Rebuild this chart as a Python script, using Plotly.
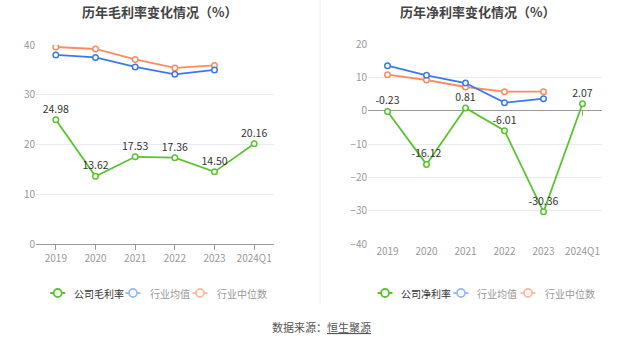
import plotly.graph_objects as go

# Categories (years) shared by both panels
years = ["2019", "2020", "2021", "2022", "2023", "2024Q1"]

# Gross margin (%)
gross_company = [24.98, 13.62, 17.53, 17.36, 14.50, 20.16]
gross_ind_avg = [38.0, 37.5, 35.6, 34.1, 35.0]
gross_ind_median = [39.6, 39.2, 37.1, 35.4, 35.9]

# Net margin (%)
net_company = [-0.23, -16.12, 0.81, -6.01, -30.36, 2.07]
net_ind_avg = [13.5, 10.6, 8.3, 2.4, 3.6]
net_ind_median = [10.8, 9.2, 7.1, 5.7, 5.7]

GREEN = "#5ac42c"
BLUE = "#3b78ef"
ORANGE = "#fb8c60"
BLUE_L = "#9dbaf6"
ORANGE_L = "#fcbca3"
FONT = "Noto Sans CJK SC"

W, H = 637, 344


def px_x(p):
    return p / W


def px_y(p):
    return 1 - p / H


fig = go.Figure()


def add_panel(xa, ya, company, avg, median):
    fmt = ["%.2f" % v for v in company]
    for vals, col in [(median, ORANGE), (avg, BLUE)]:
        fig.add_trace(go.Scatter(
            x=years[:len(vals)], y=vals, xaxis=xa, yaxis=ya, mode="lines+markers",
            line=dict(color=col, width=1.8),
            marker=dict(symbol="circle", size=5.5, color="white", line=dict(color=col, width=1.5)),
            showlegend=False, hoverinfo="skip"))
    fig.add_trace(go.Scatter(
        x=years, y=company, xaxis=xa, yaxis=ya, mode="lines+markers+text",
        text=fmt, textposition="top center",
        textfont=dict(family=FONT, size=10.5, color="#333333"),
        line=dict(color=GREEN, width=1.8),
        marker=dict(symbol="circle", size=5.5, color="white", line=dict(color=GREEN, width=1.5)),
        showlegend=False, hoverinfo="skip"))


add_panel("x", "y", gross_company, gross_ind_avg, gross_ind_median)
add_panel("x2", "y2", net_company, net_ind_avg, net_ind_median)

axis_font = dict(family=FONT, size=10, color="#999999")
grid = "#e9ebf3"

fig.update_layout(
    width=W, height=H,
    margin=dict(l=0, r=0, t=0, b=0),
    paper_bgcolor="white", plot_bgcolor="white",
    font=dict(family=FONT),
    showlegend=False,
    xaxis=dict(domain=[px_x(36), px_x(274)], anchor="y", type="category",
               range=[-0.5, 5.5], showgrid=False, showline=True, linecolor="#999999",
               ticks="outside", ticklen=5, tickcolor="#999999", tickfont=axis_font,
               fixedrange=True, automargin=False),
    yaxis=dict(domain=[px_y(244), px_y(45)], anchor="x", range=[0, 40], dtick=10,
               showgrid=True, gridcolor=grid, zeroline=False, showline=False,
               tickfont=axis_font, ticks="", fixedrange=True, automargin=False),
    xaxis2=dict(domain=[px_x(368), px_x(602)], anchor="y2", type="category",
                range=[-0.5, 5.5], showgrid=False, showline=False, ticks="",
                tickfont=axis_font, fixedrange=True, automargin=False),
    yaxis2=dict(domain=[px_y(244), px_y(44)], anchor="x2", range=[-40, 20], dtick=10,
                showgrid=True, gridcolor=grid, zeroline=True, zerolinecolor="#999999",
                zerolinewidth=1, showline=False, tickfont=axis_font, ticks="",
                fixedrange=True, automargin=False),
)

# small tick marks on the zero line of the net margin panel
for yr in years:
    fig.add_shape(type="line", xref="x2", yref="y2", x0=yr, x1=yr,
                  ysizemode="pixel", yanchor=0, y0=0, y1=-5,
                  line=dict(color="#999999", width=1))

# divider between panels
fig.add_shape(type="line", xref="paper", yref="paper", x0=px_x(320), x1=px_x(320),
              y0=px_y(305), y1=1, line=dict(color="#eeeeee", width=1))

# legends: (icon centre px, label, line colour, text colour)
legend_y = px_y(293)
legend_items = [
    (57.7, "公司毛利率", GREEN, "#333333"),
    (133, "行业均值", BLUE_L, "#999999"),
    (200, "行业中位数", ORANGE_L, "#999999"),
    (385, "公司净利率", GREEN, "#333333"),
    (461, "行业均值", BLUE_L, "#999999"),
    (528, "行业中位数", ORANGE_L, "#999999"),
]
for cx, label, col, tcol in legend_items:
    fig.add_shape(type="line", xref="paper", yref="paper",
                  xsizemode="pixel", xanchor=px_x(cx), x0=-7.5, x1=7.5,
                  y0=legend_y, y1=legend_y, line=dict(color=col, width=2))
    fig.add_shape(type="circle", xref="paper", yref="paper",
                  xsizemode="pixel", ysizemode="pixel",
                  xanchor=px_x(cx), yanchor=legend_y,
                  x0=-4, x1=4, y0=-4, y1=4,
                  fillcolor="white", line=dict(color=col, width=1.8))
    fig.add_annotation(text=label, x=px_x(cx + 14.5), y=legend_y, xref="paper", yref="paper",
                       xanchor="left", yanchor="middle", showarrow=False,
                       font=dict(family=FONT, size=10, color=tcol))

# titles and source
fig.add_annotation(text="<b>历年毛利率变化情况（%）</b>", x=px_x(160), y=px_y(12),
                   xref="paper", yref="paper", xanchor="center", yanchor="middle",
                   showarrow=False, font=dict(family=FONT, size=13, color="#444444"))
fig.add_annotation(text="<b>历年净利率变化情况（%）</b>", x=px_x(478), y=px_y(12),
                   xref="paper", yref="paper", xanchor="center", yanchor="middle",
                   showarrow=False, font=dict(family=FONT, size=13, color="#444444"))
fig.add_annotation(text="数据来源：<u>恒生聚源</u>", x=px_x(321), y=px_y(327),
                   xref="paper", yref="paper", xanchor="center", yanchor="middle",
                   showarrow=False, font=dict(family=FONT, size=11, color="#555555"))

fig.write_html("out.html")
